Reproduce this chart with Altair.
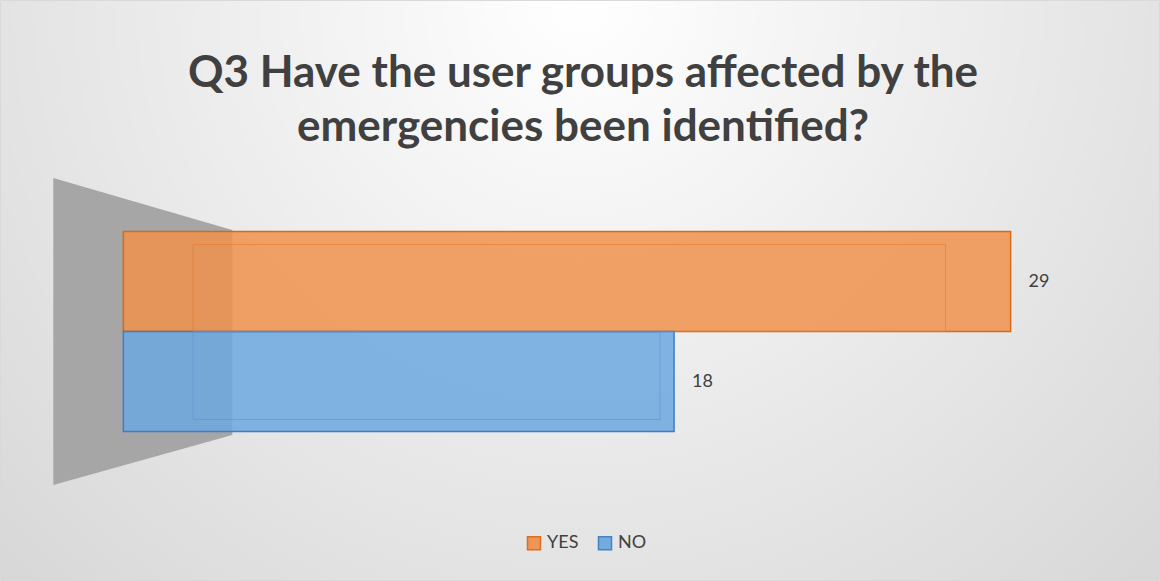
import altair as alt
import pandas as pd

# data
categories = ["YES", "NO"]
values = [29, 18]
title_lines = ["Q3 Have the user groups affected by the", "emergencies been identified?"]

# decorative 3D side wall (x in value units, y in plot pixels)
wall_x = [-2.29, 3.56]
wall_top = [0, 52]
wall_bottom = [307, 257]

fill_colors = ["#F0914E", "#6EA8DF"]
stroke_colors = ["#D8691C", "#3E7EC2"]
inner_colors = ["#E57A2C", "#5896D6"]

# perspective of the 3D bars (vanishing point in value units, depth fraction)
VP, DEPTH = 15.0, 0.152

W, H = 1080, 307
PL, PT, PR, PB = 53, 178, 27, 96

df = pd.DataFrame({"cat": categories, "val": values})
wall = pd.DataFrame({"x": wall_x, "y": wall_top, "y2": wall_bottom})
tdf = pd.DataFrame({"t": title_lines, "i": [0, 1]})

xscale = alt.Scale(domain=[-2.3, 33], nice=False, zero=False)

bg = alt.Chart(pd.DataFrame({"a": [0]})).mark_rect(
    color={
        "gradient": "radial",
        "x1": 0.5, "y1": 0.25, "r1": 0.0,
        "x2": 0.5, "y2": 0.25, "r2": 0.85,
        "stops": [
            {"offset": 0, "color": "#ffffff"},
            {"offset": 1, "color": "#cfcfcf"},
        ],
    },
    stroke="#d9d9d9", strokeWidth=1,
).encode(
    x=alt.value(-PL + 0.5), x2=alt.value(W + PR - 0.5),
    y=alt.value(-PT + 0.5), y2=alt.value(H + PB - 0.5),
)

title_layer = alt.Chart(tdf).mark_text(
    font="Lato", fontSize=44, fontWeight="bold", color="#404040",
    align="center", baseline="middle",
).encode(
    x=alt.value(583 - PL),
    y=alt.Y("i:Q", scale=alt.Scale(domain=[0, 1], range=[74 - PT, 128 - PT]), axis=None),
    text="t:N",
)

wall_layer = alt.Chart(wall).mark_area(color="#a6a6a6", opacity=1).encode(
    x=alt.X("x:Q", scale=xscale, axis=None),
    y=alt.Y("y:Q", scale=alt.Scale(domain=[0, H], reverse=True, nice=False), axis=None),
    y2="y2:Q",
)

yenc = alt.Y("cat:N", sort=categories,
             scale=alt.Scale(type="band", paddingInner=0, paddingOuter=0.535), axis=None)

legend = alt.Legend(
    title=None, orient="none", direction="horizontal",
    legendX=W / 2 - 68, legendY=H + 49,
    symbolType="square", symbolSize=170, symbolStrokeWidth=1.5,
    labelFont="Lato", labelFontSize=18, labelColor="#404040",
    columnPadding=16, labelOffset=4, symbolOpacity=0.95,
)

bars = alt.Chart(df).mark_bar(fillOpacity=0.86, strokeWidth=1.5).encode(
    x=alt.X("val:Q", scale=xscale, axis=None),
    x2=alt.datum(0),
    y=yenc,
    color=alt.Color("cat:N", sort=categories,
                    scale=alt.Scale(domain=categories, range=fill_colors), legend=legend),
    stroke=alt.Stroke("cat:N", sort=categories,
                      scale=alt.Scale(domain=categories, range=stroke_colors), legend=legend),
)

inner_base = alt.Chart(df).transform_calculate(
    inner=f"datum.val - {DEPTH} * (datum.val - {VP})",
    inner0=f"{DEPTH} * {VP}",
)

inner_yes = inner_base.transform_filter("datum.cat == 'YES'").mark_bar(
    height={"band": 0.87}, yOffset=6.5, fillOpacity=0, stroke=inner_colors[0],
    strokeWidth=1, strokeOpacity=0.6,
).encode(
    x=alt.X("inner:Q", scale=xscale, axis=None), x2="inner0:Q", y=yenc,
)

inner_no = inner_base.transform_filter("datum.cat == 'NO'").mark_bar(
    height={"band": 0.87}, yOffset=-5.5, fillOpacity=0, stroke=inner_colors[1],
    strokeWidth=1, strokeOpacity=0.6,
).encode(
    x=alt.X("inner:Q", scale=xscale, axis=None), x2="inner0:Q", y=yenc,
)

labels = alt.Chart(df).mark_text(
    align="left", baseline="middle", dx=18, font="Lato", fontSize=18, color="#404040"
).encode(
    x=alt.X("val:Q", scale=xscale, axis=None),
    y=yenc,
    text="val:Q",
)

bar_group = alt.layer(bars, inner_yes, inner_no, labels)

chart = alt.layer(bg, title_layer, wall_layer, bar_group).resolve_scale(y="independent").properties(
    width=W, height=H,
    autosize=alt.AutoSizeParams(type="none"),
    padding={"left": PL, "top": PT, "right": PR, "bottom": PB},
).configure_view(stroke=None).configure(background="#ffffff")

chart.save("out.html", embed_options={"renderer": "svg", "actions": False})
